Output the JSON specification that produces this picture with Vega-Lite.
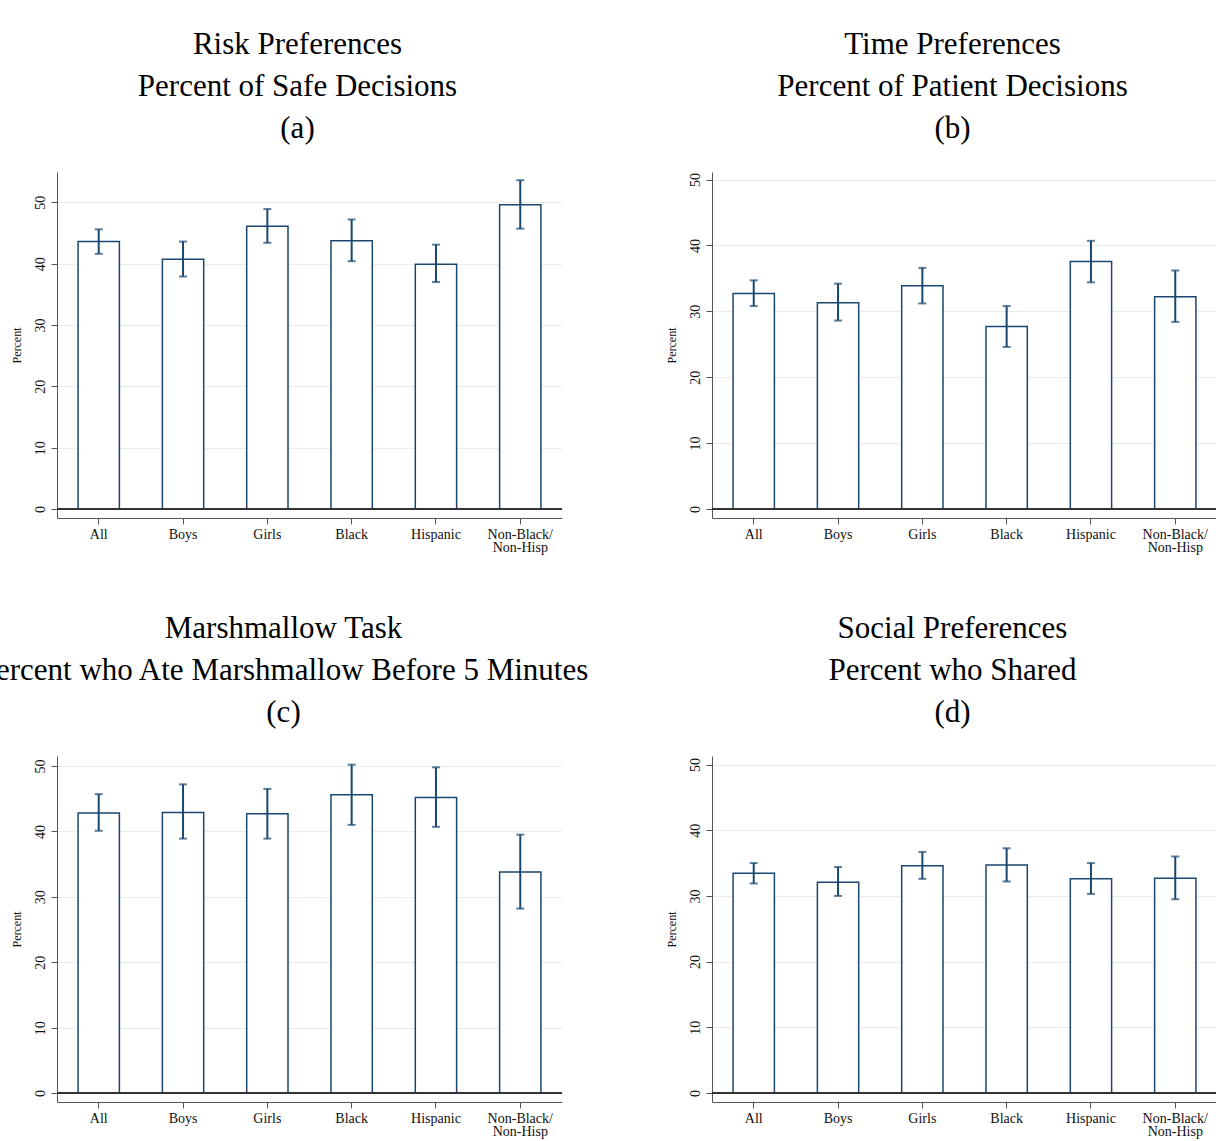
{
  "$schema": "https://vega.github.io/schema/vega-lite/v6.json",
  "autosize": {"type": "none"},
  "padding": {"left": 57, "top": 172, "right": 1159, "bottom": 969},
  "background": "white",
  "datasets": {
    "a": [
      {"group": "All", "pct": 43.6, "lo": 41.6, "hi": 45.6},
      {"group": "Boys", "pct": 40.7, "lo": 37.9, "hi": 43.6},
      {"group": "Girls", "pct": 46.1, "lo": 43.4, "hi": 48.9},
      {"group": "Black", "pct": 43.75, "lo": 40.4, "hi": 47.2},
      {"group": "Hispanic", "pct": 39.9, "lo": 37.0, "hi": 43.1},
      {"group": "Non-Black/Non-Hisp", "pct": 49.6, "lo": 45.7, "hi": 53.6}
    ],
    "b": [
      {"group": "All", "pct": 32.7, "lo": 30.8, "hi": 34.7},
      {"group": "Boys", "pct": 31.3, "lo": 28.6, "hi": 34.2},
      {"group": "Girls", "pct": 33.9, "lo": 31.2, "hi": 36.6},
      {"group": "Black", "pct": 27.7, "lo": 24.6, "hi": 30.8},
      {"group": "Hispanic", "pct": 37.55, "lo": 34.4, "hi": 40.7},
      {"group": "Non-Black/Non-Hisp", "pct": 32.2, "lo": 28.4, "hi": 36.2}
    ],
    "c": [
      {"group": "All", "pct": 42.8, "lo": 40.1, "hi": 45.7},
      {"group": "Boys", "pct": 42.9, "lo": 38.9, "hi": 47.2},
      {"group": "Girls", "pct": 42.7, "lo": 38.9, "hi": 46.5},
      {"group": "Black", "pct": 45.6, "lo": 41.0, "hi": 50.2},
      {"group": "Hispanic", "pct": 45.2, "lo": 40.7, "hi": 49.8},
      {"group": "Non-Black/Non-Hisp", "pct": 33.8, "lo": 28.2, "hi": 39.5}
    ],
    "d": [
      {"group": "All", "pct": 33.45, "lo": 31.9, "hi": 35.0},
      {"group": "Boys", "pct": 32.1, "lo": 30.0, "hi": 34.4},
      {"group": "Girls", "pct": 34.6, "lo": 32.6, "hi": 36.7},
      {"group": "Black", "pct": 34.7, "lo": 32.2, "hi": 37.25},
      {"group": "Hispanic", "pct": 32.6, "lo": 30.3, "hi": 35.0},
      {"group": "Non-Black/Non-Hisp", "pct": 32.7, "lo": 29.5, "hi": 36.0}
    ]
  },
  "config": {
    "view": {"stroke": null},
    "font": "Liberation Serif",
    "axis": {
      "domainColor": "#555555",
      "tickColor": "#555555",
      "tickSize": 6,
      "labelColor": "#111111",
      "labelFont": "Liberation Serif",
      "labelFontSize": 14,
      "titleFont": "Liberation Serif",
      "titleFontSize": 12,
      "titleFontWeight": "normal",
      "titleColor": "#111111"
    },
    "axisY": {
      "labelAngle": 270,
      "labelAlign": "center",
      "labelBaseline": "bottom",
      "labelPadding": 4,
      "titlePadding": 10,
      "grid": true,
      "gridColor": "#e9ecee"
    },
    "axisX": {
      "labelAngle": 0,
      "labelPadding": 3,
      "labelLineHeight": 13,
      "grid": false,
      "title": null,
      "labelExpr": "datum.label == 'Non-Black/Non-Hisp' ? ['Non-Black/', 'Non-Hisp'] : datum.label"
    },
    "title": {
      "font": "Liberation Serif",
      "fontSize": 31,
      "fontWeight": "normal",
      "lineHeight": 42,
      "color": "#000000",
      "anchor": "middle",
      "offset": 27
    },
    "bar": {"fill": "white", "stroke": "#1a476f", "strokeWidth": 1.5},
    "tick": {"color": "#1a476f", "thickness": 2, "size": 8},
    "rule": {"color": "#1a476f", "strokeWidth": 2}
  },
  "bounds": "flush",
  "spacing": {"row": 238, "column": 150},
  "columns": 2,
  "concat": [
    {
      "title": {"text": ["Risk Preferences", "Percent of Safe Decisions", "(a)"], "dx": -12, "font": "Liberation Serif"},
      "width": 505, "height": 346,
      "data": {"name": "a"},
      "layer": [
        {"mark": "bar", "encoding": {
          "x": {"field": "group", "type": "nominal", "sort": null, "scale": {"paddingInner": 0.51, "paddingOuter": 0.25}},
          "y": {"field": "pct", "type": "quantitative", "title": "Percent", "scale": {"domain": [-1.47, 54.94], "nice": false, "zero": false}, "axis": {"values": [0, 10, 20, 30, 40, 50]}},
          "y2": {"datum": 0}}},
        {"mark": "rule", "encoding": {
          "x": {"field": "group", "type": "nominal", "sort": null},
          "y": {"field": "lo", "type": "quantitative", "title": "Percent", "axis": {"values": [0, 10, 20, 30, 40, 50]}},
          "y2": {"field": "hi"}}},
        {"mark": "tick", "encoding": {
          "x": {"field": "group", "type": "nominal", "sort": null},
          "y": {"field": "lo", "type": "quantitative", "title": "Percent", "axis": {"values": [0, 10, 20, 30, 40, 50]}}}},
        {"mark": "tick", "encoding": {
          "x": {"field": "group", "type": "nominal", "sort": null},
          "y": {"field": "hi", "type": "quantitative", "title": "Percent", "axis": {"values": [0, 10, 20, 30, 40, 50]}}}},
        {"mark": {"type": "rule", "color": "#333333", "strokeWidth": 1.5}, "encoding": {
          "y": {"datum": 0, "type": "quantitative", "axis": {"values": [0, 10, 20, 30, 40, 50]}}}}
      ]
    },
    {
      "title": {"text": ["Time Preferences", "Percent of Patient Decisions", "(b)"], "dx": -12, "font": "Liberation Serif"},
      "width": 505, "height": 346,
      "data": {"name": "b"},
      "layer": [
        {"mark": "bar", "encoding": {
          "x": {"field": "group", "type": "nominal", "sort": null, "scale": {"paddingInner": 0.51, "paddingOuter": 0.25}},
          "y": {"field": "pct", "type": "quantitative", "title": "Percent", "scale": {"domain": [-1.37, 51.15], "nice": false, "zero": false}, "axis": {"values": [0, 10, 20, 30, 40, 50]}},
          "y2": {"datum": 0}}},
        {"mark": "rule", "encoding": {
          "x": {"field": "group", "type": "nominal", "sort": null},
          "y": {"field": "lo", "type": "quantitative", "title": "Percent", "axis": {"values": [0, 10, 20, 30, 40, 50]}},
          "y2": {"field": "hi"}}},
        {"mark": "tick", "encoding": {
          "x": {"field": "group", "type": "nominal", "sort": null},
          "y": {"field": "lo", "type": "quantitative", "title": "Percent", "axis": {"values": [0, 10, 20, 30, 40, 50]}}}},
        {"mark": "tick", "encoding": {
          "x": {"field": "group", "type": "nominal", "sort": null},
          "y": {"field": "hi", "type": "quantitative", "title": "Percent", "axis": {"values": [0, 10, 20, 30, 40, 50]}}}},
        {"mark": {"type": "rule", "color": "#333333", "strokeWidth": 1.5}, "encoding": {
          "y": {"datum": 0, "type": "quantitative", "axis": {"values": [0, 10, 20, 30, 40, 50]}}}}
      ]
    },
    {
      "title": {"text": ["Marshmallow Task", "Percent who Ate Marshmallow Before 5 Minutes", "(c)"], "dx": -26, "font": "Liberation Serif"},
      "width": 505, "height": 346,
      "data": {"name": "c"},
      "layer": [
        {"mark": "bar", "encoding": {
          "x": {"field": "group", "type": "nominal", "sort": null, "scale": {"paddingInner": 0.51, "paddingOuter": 0.25}},
          "y": {"field": "pct", "type": "quantitative", "title": "Percent", "scale": {"domain": [-1.37, 51.53], "nice": false, "zero": false}, "axis": {"values": [0, 10, 20, 30, 40, 50]}},
          "y2": {"datum": 0}}},
        {"mark": "rule", "encoding": {
          "x": {"field": "group", "type": "nominal", "sort": null},
          "y": {"field": "lo", "type": "quantitative", "title": "Percent", "axis": {"values": [0, 10, 20, 30, 40, 50]}},
          "y2": {"field": "hi"}}},
        {"mark": "tick", "encoding": {
          "x": {"field": "group", "type": "nominal", "sort": null},
          "y": {"field": "lo", "type": "quantitative", "title": "Percent", "axis": {"values": [0, 10, 20, 30, 40, 50]}}}},
        {"mark": "tick", "encoding": {
          "x": {"field": "group", "type": "nominal", "sort": null},
          "y": {"field": "hi", "type": "quantitative", "title": "Percent", "axis": {"values": [0, 10, 20, 30, 40, 50]}}}},
        {"mark": {"type": "rule", "color": "#333333", "strokeWidth": 1.5}, "encoding": {
          "y": {"datum": 0, "type": "quantitative", "axis": {"values": [0, 10, 20, 30, 40, 50]}}}}
      ]
    },
    {
      "title": {"text": ["Social Preferences", "Percent who Shared", "(d)"], "dx": -12, "font": "Liberation Serif"},
      "width": 505, "height": 346,
      "data": {"name": "d"},
      "layer": [
        {"mark": "bar", "encoding": {
          "x": {"field": "group", "type": "nominal", "sort": null, "scale": {"paddingInner": 0.51, "paddingOuter": 0.25}},
          "y": {"field": "pct", "type": "quantitative", "title": "Percent", "scale": {"domain": [-1.37, 51.3], "nice": false, "zero": false}, "axis": {"values": [0, 10, 20, 30, 40, 50]}},
          "y2": {"datum": 0}}},
        {"mark": "rule", "encoding": {
          "x": {"field": "group", "type": "nominal", "sort": null},
          "y": {"field": "lo", "type": "quantitative", "title": "Percent", "axis": {"values": [0, 10, 20, 30, 40, 50]}},
          "y2": {"field": "hi"}}},
        {"mark": "tick", "encoding": {
          "x": {"field": "group", "type": "nominal", "sort": null},
          "y": {"field": "lo", "type": "quantitative", "title": "Percent", "axis": {"values": [0, 10, 20, 30, 40, 50]}}}},
        {"mark": "tick", "encoding": {
          "x": {"field": "group", "type": "nominal", "sort": null},
          "y": {"field": "hi", "type": "quantitative", "title": "Percent", "axis": {"values": [0, 10, 20, 30, 40, 50]}}}},
        {"mark": {"type": "rule", "color": "#333333", "strokeWidth": 1.5}, "encoding": {
          "y": {"datum": 0, "type": "quantitative", "axis": {"values": [0, 10, 20, 30, 40, 50]}}}}
      ]
    }
  ]
}
